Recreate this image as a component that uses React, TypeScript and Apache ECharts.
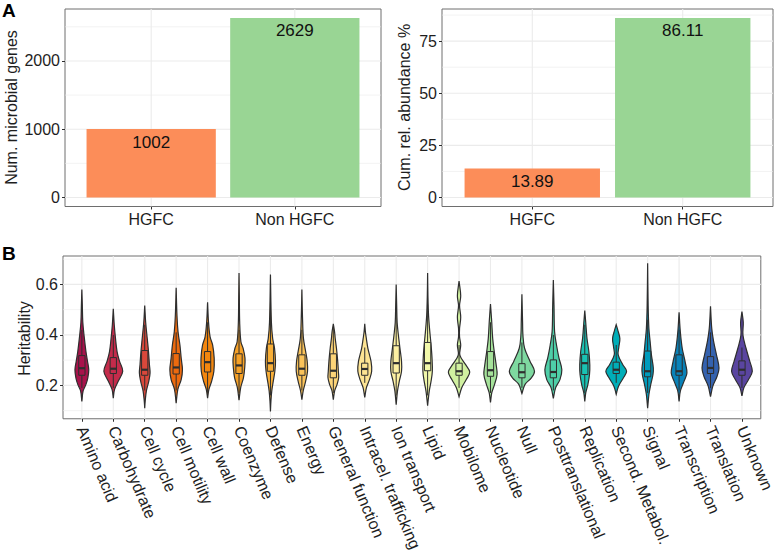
import React, { useEffect, useRef } from 'react';
import * as echarts from 'echarts';

const FONT = '"Liberation Sans", Arial, Helvetica, sans-serif';

// Panel A data
const groups = ['HGFC', 'Non HGFC'];
const geneCounts = [1002, 2629];
const cumAbundance = [13.89, 86.11];
const barColors = ['#FC8D59', '#99D594'];

const countTicks = [0, 1000, 2000];
const countMinor = [500, 1500, 2500];
const abundTicks = [0, 25, 50, 75];
const abundMinor = [12.5, 37.5, 62.5, 87.5];
const herTicks = [0.2, 0.4, 0.6];
const herMinor = [0.1, 0.3, 0.5, 0.7];

// Panel B data
const categories = [
  'Amino acid', 'Carbohydrate', 'Cell cycle', 'Cell motility', 'Cell wall', 'Coenzyme',
  'Defense', 'Energy', 'General function', 'Intracel. trafficking', 'Ion transport', 'Lipid',
  'Mobilome', 'Nucleotide', 'Null', 'Posttranslational', 'Replication', 'Second. Metabol.',
  'Signal', 'Transcription', 'Translation', 'Unknown',
];

const violinColors = [
  '#A8124B', '#C42B4B', '#D9483B', '#EC6A0E', '#F3870F', '#F6A127',
  '#F8AF38', '#FAC35A', '#FCD478', '#FDE493', '#FDF0A2', '#F1F8AA',
  '#D0F0A0', '#A5E29A', '#7ED9A0', '#4ECFA8', '#1AC2B3', '#00AEB8',
  '#009BBC', '#0A82B8', '#3562AE', '#5A45A0',
];

// [lower whisker, q1, median, q3, upper whisker]
const boxStats = [
  [0.19, 0.240, 0.268, 0.318, 0.42],
  [0.19, 0.247, 0.266, 0.310, 0.40],
  [0.18, 0.240, 0.262, 0.338, 0.44],
  [0.18, 0.245, 0.271, 0.326, 0.41],
  [0.17, 0.253, 0.292, 0.334, 0.45],
  [0.17, 0.247, 0.279, 0.325, 0.42],
  [0.16, 0.256, 0.288, 0.364, 0.50],
  [0.18, 0.240, 0.266, 0.321, 0.42],
  [0.17, 0.230, 0.258, 0.325, 0.43],
  [0.21, 0.240, 0.265, 0.288, 0.35],
  [0.16, 0.249, 0.288, 0.357, 0.50],
  [0.16, 0.258, 0.288, 0.370, 0.52],
  [0.19, 0.240, 0.256, 0.288, 0.36],
  [0.17, 0.236, 0.260, 0.334, 0.45],
  [0.19, 0.230, 0.252, 0.286, 0.37],
  [0.18, 0.230, 0.253, 0.301, 0.40],
  [0.17, 0.243, 0.288, 0.323, 0.44],
  [0.21, 0.247, 0.262, 0.292, 0.36],
  [0.17, 0.234, 0.256, 0.336, 0.46],
  [0.18, 0.240, 0.256, 0.321, 0.42],
  [0.19, 0.247, 0.269, 0.314, 0.41],
  [0.19, 0.240, 0.262, 0.297, 0.35],
];

// violin outline: [heritability, half width as fraction of category band]
const violinShapes = [
  [[0.136, 0], [0.178, 0.04], [0.204, 0.13], [0.23, 0.19], [0.262, 0.22], [0.295, 0.18], [0.334, 0.13], [0.392, 0.075], [0.45, 0.03], [0.516, 0.015], [0.58, 0]],
  [[0.149, 0], [0.184, 0.04], [0.217, 0.16], [0.256, 0.3], [0.295, 0.2], [0.334, 0.12], [0.386, 0.07], [0.44, 0.03], [0.503, 0]],
  [[0.11, 0], [0.139, 0.016], [0.178, 0.053], [0.217, 0.13], [0.249, 0.17], [0.282, 0.15], [0.334, 0.12], [0.386, 0.08], [0.45, 0.03], [0.516, 0]],
  [[0.129, 0], [0.184, 0.053], [0.223, 0.16], [0.262, 0.2], [0.308, 0.16], [0.36, 0.12], [0.412, 0.06], [0.477, 0.026], [0.587, 0]],
  [[0.149, 0], [0.184, 0.042], [0.217, 0.13], [0.256, 0.2], [0.308, 0.21], [0.36, 0.16], [0.392, 0.08], [0.45, 0.03], [0.529, 0]],
  [[0.141, 0], [0.191, 0.053], [0.23, 0.14], [0.269, 0.18], [0.308, 0.19], [0.347, 0.13], [0.373, 0.06], [0.45, 0.021], [0.555, 0.01], [0.645, 0]],
  [[0.097, 0], [0.139, 0.016], [0.178, 0.042], [0.217, 0.09], [0.256, 0.14], [0.295, 0.16], [0.347, 0.13], [0.386, 0.07], [0.45, 0.03], [0.639, 0]],
  [[0.143, 0], [0.178, 0.042], [0.217, 0.12], [0.256, 0.18], [0.295, 0.17], [0.334, 0.12], [0.386, 0.05], [0.464, 0.021], [0.58, 0]],
  [[0.143, 0], [0.178, 0.042], [0.204, 0.12], [0.23, 0.17], [0.256, 0.16], [0.295, 0.14], [0.347, 0.1], [0.386, 0.06], [0.412, 0.04], [0.444, 0]],
  [[0.152, 0], [0.191, 0.053], [0.223, 0.15], [0.256, 0.22], [0.295, 0.2], [0.347, 0.1], [0.386, 0.05], [0.412, 0.021], [0.444, 0]],
  [[0.123, 0], [0.178, 0.042], [0.217, 0.1], [0.256, 0.17], [0.295, 0.17], [0.347, 0.12], [0.399, 0.07], [0.45, 0.03], [0.516, 0.016], [0.6, 0]],
  [[0.12, 0], [0.139, 0.016], [0.178, 0.053], [0.217, 0.11], [0.256, 0.15], [0.308, 0.14], [0.36, 0.11], [0.412, 0.07], [0.477, 0.03], [0.555, 0.01], [0.645, 0]],
  [[0.155, 0], [0.191, 0.085], [0.223, 0.23], [0.253, 0.34], [0.282, 0.21], [0.32, 0.026], [0.36, 0.053], [0.392, 0.016], [0.425, 0.016], [0.47, 0.053], [0.516, 0.016], [0.555, 0.053], [0.613, 0]],
  [[0.132, 0], [0.171, 0.042], [0.204, 0.13], [0.243, 0.21], [0.282, 0.18], [0.334, 0.12], [0.386, 0.07], [0.45, 0.04], [0.477, 0.026], [0.522, 0]],
  [[0.168, 0], [0.204, 0.1], [0.23, 0.3], [0.256, 0.4], [0.295, 0.26], [0.347, 0.085], [0.399, 0.032], [0.45, 0.021], [0.561, 0]],
  [[0.149, 0], [0.191, 0.074], [0.223, 0.21], [0.262, 0.27], [0.308, 0.18], [0.36, 0.1], [0.412, 0.04], [0.516, 0.021], [0.617, 0]],
  [[0.136, 0], [0.171, 0.032], [0.204, 0.1], [0.243, 0.15], [0.282, 0.16], [0.334, 0.13], [0.386, 0.07], [0.45, 0.03], [0.496, 0]],
  [[0.165, 0], [0.197, 0.074], [0.23, 0.23], [0.256, 0.33], [0.282, 0.21], [0.321, 0.063], [0.353, 0.085], [0.386, 0.116], [0.418, 0.053], [0.44, 0]],
  [[0.11, 0], [0.165, 0.042], [0.204, 0.1], [0.243, 0.17], [0.269, 0.18], [0.321, 0.12], [0.373, 0.08], [0.425, 0.04], [0.516, 0.016], [0.684, 0]],
  [[0.136, 0], [0.178, 0.042], [0.217, 0.16], [0.249, 0.25], [0.295, 0.19], [0.347, 0.1], [0.412, 0.04], [0.49, 0]],
  [[0.155, 0], [0.197, 0.074], [0.236, 0.21], [0.269, 0.27], [0.321, 0.19], [0.373, 0.1], [0.425, 0.04], [0.513, 0]],
  [[0.158, 0], [0.191, 0.063], [0.223, 0.21], [0.256, 0.33], [0.295, 0.25], [0.347, 0.13], [0.399, 0.032], [0.45, 0.042], [0.492, 0]],
];

const GRID_COLOR = '#EBEBEB';
const BORDER = '#6E6E6E';
const INK = '#2E2E2E';
const LABEL = '#1E1E1E';

function xAxisFor(gridIndex: number, names: string[], label: any) {
  const idx = names.map((_, i) => i);
  return {
    type: 'value',
    gridIndex,
    min: -0.6,
    max: names.length - 0.4,
    axisLine: { show: false, onZero: false },
    splitLine: { show: false },
    axisTick: { show: true, length: 3, lineStyle: { color: INK, width: 1 }, customValues: idx },
    axisLabel: {
      customValues: idx,
      formatter: (v: number) => names[Math.round(v)] ?? '',
      color: LABEL,
      fontFamily: FONT,
      ...label,
    },
  };
}

function yAxisFor(gridIndex: number, min: number, max: number, ticks: number[]) {
  return {
    type: 'value',
    gridIndex,
    min,
    max,
    axisLine: { show: false, onZero: false },
    splitLine: { show: false },
    axisTick: { show: true, length: 3, lineStyle: { color: INK, width: 1 }, customValues: ticks },
    axisLabel: {
      customValues: ticks,
      formatter: (v: number) => String(v),
      color: LABEL,
      fontFamily: FONT,
      fontSize: 16,
      margin: 5,
    },
  };
}

function gridLines(axisIndex: number, major: number[], minor: number[], vertical: number[]) {
  const data = [
    ...major.map((v) => [v, 0]),
    ...minor.map((v) => [v, 1]),
    ...vertical.map((v) => [v, 2]),
  ];
  return {
    type: 'custom',
    xAxisIndex: axisIndex,
    yAxisIndex: axisIndex,
    z: 1,
    silent: true,
    data,
    renderItem: (params: any, api: any) => {
      const cs = params.coordSys;
      const v = api.value(0);
      const kind = api.value(1);
      if (kind === 2) {
        const x = api.coord([v, 0])[0];
        return {
          type: 'line',
          shape: { x1: x, y1: cs.y, x2: x, y2: cs.y + cs.height },
          style: { stroke: GRID_COLOR, lineWidth: 1.1 },
        };
      }
      const y = api.coord([0, v])[1];
      return {
        type: 'line',
        shape: { x1: cs.x, y1: y, x2: cs.x + cs.width, y2: y },
        style: { stroke: GRID_COLOR, lineWidth: kind === 0 ? 1.1 : 0.6 },
      };
    },
  };
}

function barSeries(axisIndex: number, values: number[]) {
  return {
    type: 'custom',
    xAxisIndex: axisIndex,
    yAxisIndex: axisIndex,
    z: 3,
    data: values.map((v, i) => [i, v]),
    renderItem: (params: any, api: any) => {
      const i = api.value(0);
      const v = api.value(1);
      const p0 = api.coord([i - 0.45, 0]);
      const p1 = api.coord([i + 0.45, v]);
      return {
        type: 'group',
        children: [
          {
            type: 'rect',
            shape: { x: p0[0], y: p1[1], width: p1[0] - p0[0], height: p0[1] - p1[1] },
            style: { fill: barColors[i] },
          },
          {
            type: 'text',
            style: {
              text: String(v),
              x: (p0[0] + p1[0]) / 2,
              y: p1[1] + 13,
              align: 'center',
              verticalAlign: 'middle',
              font: '17px ' + FONT,
              fill: '#111',
            },
          },
        ],
      };
    },
  };
}

function violinSeries() {
  return {
    type: 'custom',
    xAxisIndex: 2,
    yAxisIndex: 2,
    z: 3,
    data: categories.map((_, i) => [i, boxStats[i][2]]),
    renderItem: (params: any, api: any) => {
      const i = params.dataIndex;
      const shape = violinShapes[i];
      const right = shape.map(([v, w]) => api.coord([i + w, v]));
      const left = shape.slice().reverse().map(([v, w]) => api.coord([i - w, v]));
      const [lo, q1, med, q3, hi] = boxStats[i];
      const bw = 0.1;
      const b0 = api.coord([i - bw, q1]);
      const b1 = api.coord([i + bw, q3]);
      const m0 = api.coord([i - bw, med]);
      const m1 = api.coord([i + bw, med]);
      const cx = api.coord([i, q1])[0];
      const yLo = api.coord([i, lo])[1];
      const yHi = api.coord([i, hi])[1];
      const color = violinColors[i];
      return {
        type: 'group',
        children: [
          {
            type: 'polygon',
            shape: { points: [...right, ...left], smooth: 0.35 },
            style: { fill: color, stroke: INK, lineWidth: 1.2 },
          },
          {
            type: 'line',
            shape: { x1: cx, y1: b1[1], x2: cx, y2: yHi },
            style: { stroke: INK, lineWidth: 1 },
          },
          {
            type: 'line',
            shape: { x1: cx, y1: b0[1], x2: cx, y2: yLo },
            style: { stroke: INK, lineWidth: 1 },
          },
          {
            type: 'rect',
            shape: { x: b0[0], y: b1[1], width: b1[0] - b0[0], height: b0[1] - b1[1] },
            style: { fill: color, stroke: INK, lineWidth: 1 },
          },
          {
            type: 'line',
            shape: { x1: m0[0], y1: m0[1], x2: m1[0], y2: m1[1] },
            style: { stroke: INK, lineWidth: 2.2 },
          },
        ],
      };
    },
  };
}

export default function App() {
  const ref = useRef<HTMLDivElement>(null);

  useEffect(() => {
    if (!ref.current) return;
    const chart = echarts.init(ref.current, undefined, { renderer: 'svg' });
    const gridStyle = { show: true, borderColor: BORDER, borderWidth: 1, backgroundColor: '#fff' };
    const option: any = {
      animation: false,
      backgroundColor: '#fff',
      grid: [
        { left: 65, top: 9, width: 316, height: 197.5, ...gridStyle },
        { left: 442, top: 9, width: 331, height: 197.5, ...gridStyle },
        { left: 63, top: 256, width: 700, height: 165, ...gridStyle },
      ],
      xAxis: [
        xAxisFor(0, groups, { fontSize: 16, margin: 5 }),
        xAxisFor(1, groups, { fontSize: 16, margin: 5 }),
        xAxisFor(2, categories, { fontSize: 16.3, margin: 8, rotate: -67 }),
      ],
      yAxis: [
        yAxisFor(0, -131.45, 2760.45, countTicks),
        yAxisFor(1, -4.3055, 90.4155, abundTicks),
        yAxisFor(2, 0.0677, 0.7125, herTicks),
      ],
      graphic: [
        { type: 'text', x: 2, y: 10, style: { text: 'A', font: 'bold 19px ' + FONT, fill: '#000', verticalAlign: 'middle' } },
        { type: 'text', x: 2, y: 253, style: { text: 'B', font: 'bold 19px ' + FONT, fill: '#000', verticalAlign: 'middle' } },
        { type: 'text', x: 11, y: 107.5, rotation: Math.PI / 2, style: { text: 'Num. microbial genes', font: '16px ' + FONT, fill: LABEL, align: 'center', verticalAlign: 'middle' } },
        { type: 'text', x: 404, y: 107.5, rotation: Math.PI / 2, style: { text: 'Cum. rel. abundance %', font: '16px ' + FONT, fill: LABEL, align: 'center', verticalAlign: 'middle' } },
        { type: 'text', x: 24, y: 338.5, rotation: Math.PI / 2, style: { text: 'Heritability', font: '16px ' + FONT, fill: LABEL, align: 'center', verticalAlign: 'middle' } },
      ],
      series: [
        gridLines(0, countTicks, countMinor, groups.map((_, i) => i)),
        gridLines(1, abundTicks, abundMinor, groups.map((_, i) => i)),
        gridLines(2, herTicks, herMinor, categories.map((_, i) => i)),
        barSeries(0, geneCounts),
        barSeries(1, cumAbundance),
        violinSeries(),
      ],
    };
    chart.setOption(option);
    return () => chart.dispose();
  }, []);

  return (
    <div
      ref={ref}
      style={{ position: 'absolute', left: 0, top: 0, width: 777, height: 554, background: '#fff' }}
    />
  );
}
